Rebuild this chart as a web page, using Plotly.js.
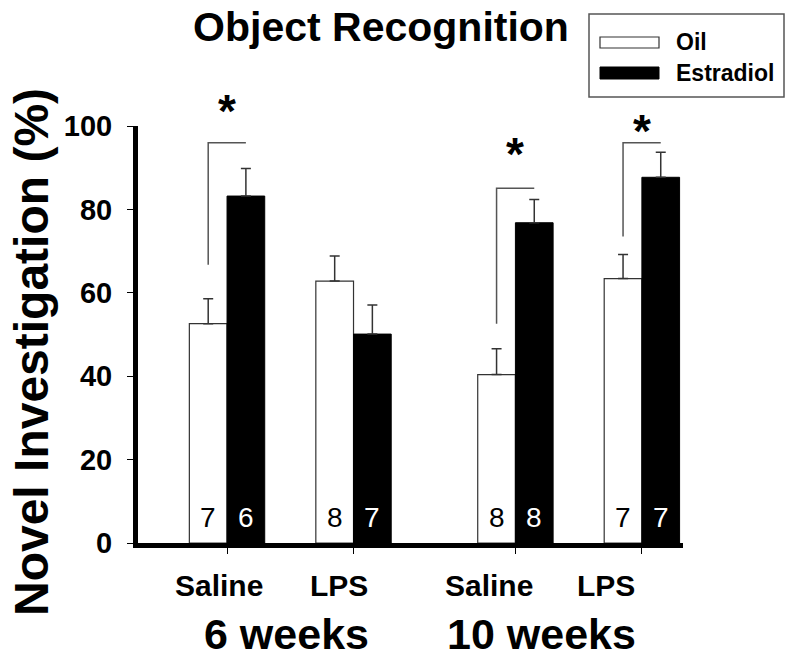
<!DOCTYPE html>
<html>
<head>
<meta charset="utf-8">
<script src="https://cdn.plot.ly/plotly-3.0.1.min.js"></script>
<style>
  html, body { margin: 0; padding: 0; background: #fff; }
  #plot { width: 800px; height: 665px; }
</style>
</head>
<body>
<div id="plot"></div>
<script>
// values (mean, SEM, n)
var groupPos = [0, 1, 2.28, 3.28];
var treatments = ['Saline', 'LPS', 'Saline', 'LPS'];
var ages = ['6 weeks', '10 weeks'];

var oilMean = [52.6, 62.8, 40.4, 63.4];
var oilSem = [6.0, 6.0, 6.2, 5.8];
var oilN = [7, 8, 8, 7];

var e2Mean = [83.2, 50.1, 76.8, 87.7];
var e2Sem = [6.6, 7.0, 5.6, 6.0];
var e2N = [6, 7, 8, 7];

// significance brackets: group index, low end (oil side), top
var sigGroup = [0, 2, 3];
var sigLow = [66.7, 52.6, 73.5];
var sigTop = [96, 85.1, 96];
var starY = [103.6, 93.3, 98.8];

var FONT = 'Liberation Sans, Arial, sans-serif';
var BW = 0.298;

// pixel -> paper helpers for things outside the plot area
var L = 138, R = 683, T = 126, B = 543;
function px(x) { return (x - L) / (R - L); }
function py(y) { return (B - y) / (B - T); }

function initPlot() {
    var zeros = groupPos.map(function () { return 0; });

    var data = [{
        type: 'bar',
        name: 'Oil',
        x: groupPos,
        y: oilMean,
        width: BW,
        offset: -BW,
        marker: { color: '#ffffff', line: { color: '#333333', width: 1.2 } },
        error_y: { type: 'data', symmetric: false, array: oilSem, arrayminus: zeros,
                   color: '#333333', thickness: 1.5, width: 5 },
        showlegend: false,
        hoverinfo: 'y+name'
    }, {
        type: 'bar',
        name: 'Estradiol',
        x: groupPos,
        y: e2Mean,
        width: BW,
        offset: 0,
        marker: { color: '#000000', line: { color: '#000000', width: 1 } },
        error_y: { type: 'data', symmetric: false, array: e2Sem, arrayminus: zeros,
                   color: '#333333', thickness: 1.5, width: 5 },
        showlegend: false,
        hoverinfo: 'y+name'
    }];

    var shapes = [];
    var annotations = [];

    // brackets + stars (stars above 100, so place them on paper y = value/100)
    sigGroup.forEach(function (g, i) {
        var x0 = groupPos[g] - BW / 2, x1 = groupPos[g] + BW / 2;
        shapes.push({
            type: 'path', xref: 'x', yref: 'y',
            path: 'M' + x0 + ',' + sigLow[i] + ' L' + x0 + ',' + sigTop[i] + ' L' + x1 + ',' + sigTop[i],
            line: { color: '#555555', width: 1.5 }
        });
        annotations.push({
            x: groupPos[g], y: starY[i] / 100, xref: 'x', yref: 'paper',
            text: '<b>*</b>', showarrow: false, xanchor: 'center', yanchor: 'middle',
            font: { family: FONT, size: 46, color: '#000' }
        });
    });

    // n per bar
    groupPos.forEach(function (p, i) {
        annotations.push({
            x: p - BW / 2, y: 6, xref: 'x', yref: 'y', text: String(oilN[i]),
            showarrow: false, xanchor: 'center', yanchor: 'middle',
            font: { family: FONT, size: 28, color: '#000' }
        });
        annotations.push({
            x: p + BW / 2, y: 6, xref: 'x', yref: 'y', text: String(e2N[i]),
            showarrow: false, xanchor: 'center', yanchor: 'middle',
            font: { family: FONT, size: 28, color: '#fff' }
        });
    });

    // category labels (sit a bit left of the ticks in the original)
    var labelShift = [-0.063, -0.115, -0.21, -0.28];
    treatments.forEach(function (t, i) {
        annotations.push({
            x: groupPos[i] + labelShift[i], y: py(585), xref: 'x', yref: 'paper',
            text: '<b>' + t + '</b>', showarrow: false, xanchor: 'center', yanchor: 'middle',
            font: { family: FONT, size: 30, color: '#000' }
        });
    });
    var ageX = [0.474, 2.486];
    ages.forEach(function (a, i) {
        annotations.push({
            x: ageX[i], y: py(634), xref: 'x', yref: 'paper',
            text: '<b>' + a + '</b>', showarrow: false, xanchor: 'center', yanchor: 'middle',
            font: { family: FONT, size: 43, color: '#000' }
        });
    });

    // y title
    annotations.push({
        x: px(31), y: py(352), xref: 'paper', yref: 'paper', textangle: -90,
        xanchor: 'center', yanchor: 'middle',
        text: '<b>Novel Investigation (%)</b>', showarrow: false,
        font: { family: FONT, size: 48, color: '#000' }
    });

    // legend box drawn by hand
    shapes.push({ type: 'rect', xref: 'paper', yref: 'paper',
        x0: px(589), x1: px(784), y0: py(97), y1: py(14),
        line: { color: '#555555', width: 1.5 }, fillcolor: '#ffffff' });
    shapes.push({ type: 'rect', xref: 'paper', yref: 'paper',
        x0: px(600), x1: px(659), y0: py(48), y1: py(37),
        line: { color: '#333333', width: 1.2 }, fillcolor: '#ffffff' });
    shapes.push({ type: 'rect', xref: 'paper', yref: 'paper',
        x0: px(600), x1: px(659), y0: py(79), y1: py(67),
        line: { color: '#000000', width: 1 }, fillcolor: '#000000' });
    annotations.push({ x: px(674), y: py(42), xref: 'paper', yref: 'paper',
        xanchor: 'left', yanchor: 'middle',
        text: '<b>Oil</b>', showarrow: false, font: { family: FONT, size: 23, color: '#000' } });
    annotations.push({ x: px(674), y: py(73), xref: 'paper', yref: 'paper',
        xanchor: 'left', yanchor: 'middle',
        text: '<b>Estradiol</b>', showarrow: false, font: { family: FONT, size: 23, color: '#000' } });

    var layout = {
        width: 800,
        height: 665,
        margin: { l: L, r: 800 - R, t: T, b: 665 - B },
        paper_bgcolor: '#ffffff',
        plot_bgcolor: '#ffffff',
        barmode: 'overlay',
        title: {
            text: '<b>Object Recognition</b>',
            x: 381 / 800, xanchor: 'center',
            y: 1 - 27 / 665, yanchor: 'middle',
            font: { family: FONT, size: 41, color: '#000' }
        },
        xaxis: {
            range: [-0.704, 3.605],
            tickvals: groupPos,
            ticktext: ['', '', '', ''],
            ticks: 'outside', ticklen: 6, tickwidth: 1, tickcolor: '#000',
            showline: true, linecolor: '#000', linewidth: 5,
            showgrid: false, zeroline: false, fixedrange: true
        },
        yaxis: {
            range: [0, 100],
            tickvals: [0, 20, 40, 60, 80, 100],
            ticks: 'outside', ticklen: 6, tickwidth: 1, tickcolor: '#000',
            ticklabelstandoff: 9,
            tickfont: { family: FONT, size: 29, color: '#000', weight: 'bold' },
            showline: true, linecolor: '#000', linewidth: 5,
            showgrid: false, zeroline: false, fixedrange: true
        },
        shapes: shapes,
        annotations: annotations
    };

    Plotly.newPlot('plot', data, layout, { displayModeBar: false, staticPlot: true });
}

document.addEventListener('DOMContentLoaded', function () {
    initPlot();
});
</script>
</body>
</html>
